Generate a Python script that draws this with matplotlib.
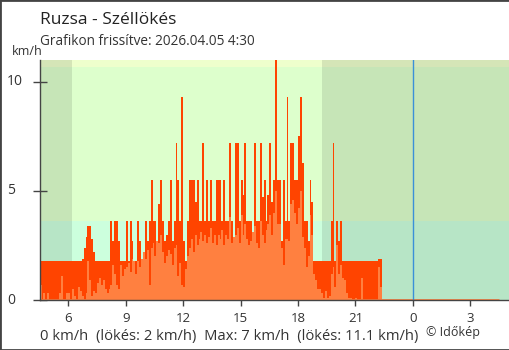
import numpy as np
import matplotlib
matplotlib.use('Agg')
import matplotlib.pyplot as plt
from matplotlib import transforms
from matplotlib.patches import Rectangle

plt.rcParams['font.family'] = ['Open Sans', 'DejaVu Sans']

# ---- data (km/h), one value per 6 minutes starting at 4:30 ----
start_hour = 4.5
step_hours = 0.1
gust = [
    # 4.5 - 6.6
    1.8, 1.8, 1.8, 1.8, 1.8, 1.8, 1.8, 1.8, 1.8, 1.8, 1.8,
    1.8, 1.8, 1.8, 1.8, 1.8, 1.8, 1.8, 1.8, 1.8, 1.8, 1.8,
    # 6.7 - 7.4
    1.9, 2.4, 2.9, 3.4, 3.4, 2.8, 2.2, 1.8,
    # 7.5 - 10.6
    1.8, 1.8, 1.8, 1.8, 1.8, 1.8, 1.8, 3.6, 2.7, 3.6, 3.6, 2.7, 1.8, 1.8, 1.8, 3.6,
    1.8, 3.6, 2.7, 1.8, 1.8, 3.6, 2.7, 1.8, 1.8, 3.6, 2.7, 3.6, 5.5, 3.6, 3.6, 2.7,
    # 10.7 - 13.8
    4.4, 5.5, 3.6, 2.7, 3.0, 3.6, 5.5, 2.7, 3.6, 7.2, 5.5, 3.6, 9.3, 2.7, 1.8, 3.6,
    5.5, 5.5, 5.5, 4.5, 5.5, 3.6, 3.6, 7.2, 3.6, 5.5, 3.6, 5.5, 3.6, 3.6, 5.5, 5.5,
    # 13.9 - 16.9
    5.5, 3.6, 5.5, 3.6, 3.6, 7.2, 3.6, 2.7, 7.2, 7.2, 3.6, 5.5, 4.8, 7.2, 3.6, 3.6,
    3.6, 2.7, 7.2, 3.6, 3.6, 7.2, 4.7, 5.5, 3.6, 4.8, 7.2, 4.5, 5.5, 11.1, 5.5,
    # 17.0 - 20.0
    5.5, 2.7, 5.5, 3.6, 9.3, 3.6, 7.2, 7.2, 5.5, 5.5, 7.5, 9.3, 6.3, 3.6, 3.6, 2.7,
    5.5, 4.5, 1.8, 1.8, 1.8, 1.8, 1.8, 1.8, 1.8, 1.8, 1.8, 3.6, 7.2, 1.8, 3.6,
    # 20.1 - 22.3
    2.7, 3.6, 1.8, 1.8, 1.8, 1.8, 1.8, 1.8, 1.8, 1.8, 1.8, 1.8,
    1.8, 1.8, 1.8, 1.8, 1.8, 1.8, 1.8, 1.8, 1.8, 1.9, 1.9,
]
wind = [
    # 4.5 - 6.6
    0.7, 0.0, 0.3, 0.0, 0.3, 0.0, 0.0, 0.0, 0.0, 0.0, 0.3,
    1.1, 0.0, 0.0, 0.3, 0.3, 0.0, 0.5, 0.2, 0.0, 0.6, 0.4,
    # 6.7 - 7.4
    0.2, 0.0, 0.3, 1.8, 0.9, 0.2, 0.4, 0.3,
    # 7.5 - 10.6
    0.8, 1.0, 0.7, 0.9, 0.5, 0.3, 0.5, 0.7, 1.6, 1.2, 0.7, 0.5, 1.6, 1.1, 1.4, 1.5,
    1.7, 1.3, 1.9, 1.8, 1.2, 1.8, 1.5, 1.9, 2.2, 1.9, 2.3, 0.7, 2.4, 2.6, 2.0, 2.7,
    # 10.7 - 13.8
    2.6, 3.0, 2.2, 1.7, 2.0, 2.3, 2.1, 1.6, 2.4, 2.5, 1.1, 1.7, 0.7, 0.6, 1.4, 2.0,
    2.4, 2.8, 2.2, 3.0, 2.5, 2.8, 3.1, 2.7, 3.0, 2.6, 2.9, 3.3, 2.6, 3.0, 2.5, 3.0,
    # 13.9 - 16.9
    2.8, 3.2, 2.5, 3.0, 2.8, 3.8, 2.6, 2.9, 3.0, 3.3, 2.6, 3.9, 3.0, 3.5, 2.8, 2.5,
    2.7, 3.1, 3.4, 2.6, 2.4, 3.6, 3.0, 2.6, 3.2, 3.5, 3.9, 3.0, 4.0, 5.0, 3.5,
    # 17.0 - 20.0
    3.5, 2.4, 1.6, 2.8, 2.8, 2.7, 4.4, 4.6, 4.0, 3.5, 4.2, 5.0, 2.9, 2.4, 1.5, 2.0,
    3.9, 3.0, 1.2, 0.9, 0.5, 0.5, 0.3, 0.1, 0.4, 0.1, 0.2, 1.2, 1.5, 0.6, 2.5,
    # 20.1 - 22.3
    1.2, 1.6, 1.0, 0.9, 0.3, 0.1, 0.1, 0.0, 0.0, 0.1, 0.0, 0.0,
    1.0, 0.0, 0.0, 0.0, 0.0, 0.0, 0.0, 0.0, 0.0, 1.5, 0.6,
]
zero_line_hours = [4.5, 28.5]
zero_line_values = [0, 0]

tick_hours = [6, 9, 12, 15, 18, 21, 24, 27]
tick_labels = ['6', '9', '12', '15', '18', '21', '0', '3']
ytick_values = [0, 5, 10]
band_edges = [0, 3.6, 10.7, 11.0]
band_colors = ['#ccffdd', '#ddffcc', '#eeffcc']
sunrise, sunset = 6.2, 19.25
midnight = 24
x_range = (4.52, 29.02)
y_range = (0, 11.0)

title = 'Ruzsa - Széllökés'
subtitle = 'Grafikon frissítve: 2026.04.05 4:30'
stats = '0 km/h  (lökés: 2 km/h)  Max: 7 km/h  (lökés: 11.1 km/h)'
credit = '© Időkép'

# ---- figure ----
W, H = 510, 350
fig = plt.figure(figsize=(W / 100, H / 100), dpi=100)
ax = fig.add_axes([40 / W, 1 - 300 / H, 469 / W, 240 / H])
ax.set_xlim(*x_range)
ax.set_ylim(*y_range)
ax.set_facecolor('white')

for lo, hi, c in zip(band_edges[:-1], band_edges[1:], band_colors):
    ax.axhspan(lo, hi, color=c, lw=0, zorder=0.1)
ax.axvspan(x_range[0], sunrise, color='black', alpha=0.1, lw=0, zorder=0.2)
ax.axvspan(sunset, x_range[1], color='black', alpha=0.1, lw=0, zorder=0.2)

hours = start_hour + step_hours * np.arange(len(gust))
ax.bar(hours, gust, width=step_hours, align='edge', color='#ff4400', lw=0, zorder=1)
ax.bar(hours, wind, width=step_hours, align='edge', color='#ff8040', lw=0, zorder=1.1)
ax.plot(zero_line_hours, zero_line_values, color='#ff8040', lw=2, zorder=1.2,
        solid_capstyle='butt')

ax.axvline(midnight, color='#3a90d8', lw=1, zorder=3)

ax.set_axisbelow(True)
for s in ['top', 'right']:
    ax.spines[s].set_visible(False)
for s in ['left', 'bottom']:
    ax.spines[s].set_color('#444444')
    ax.spines[s].set_linewidth(1)
    ax.spines[s].set_zorder(4)

ax.set_xticks(tick_hours)
ax.set_xticklabels(tick_labels, fontsize=9.5, color='#333333')
ax.tick_params(axis='x', direction='out', length=4, width=1, color='#444444', pad=5)
ax.set_yticks(ytick_values)
ax.set_yticklabels([])
ax.tick_params(axis='y', direction='inout', length=10, width=1, color='#444444')

ylab_tr = transforms.blended_transform_factory(fig.transFigure, ax.transData)
for v in ytick_values:
    ax.text(7 / W, v, str(v), transform=ylab_tr, ha='left', va='center',
            fontsize=10, color='#333333')

def fx(px):
    return px / W

def fy(py):
    return 1 - py / H

fig.text(fx(40), fy(24), title, fontsize=12.5, color='#222222', va='baseline')
fig.text(fx(40), fy(45), subtitle, fontsize=9.8, color='#333333', va='baseline')
fig.text(fx(12), fy(55), 'km/h', fontsize=9, color='#333333', va='baseline')
fig.text(fx(40), fy(340), stats, fontsize=10.6, color='#333333', va='baseline')
fig.text(fx(426), fy(336), credit, fontsize=9, color='#333333', va='baseline')

fig.add_artist(Rectangle((0, 0), 1, 1, transform=fig.transFigure, fill=False,
                         edgecolor='#444444', lw=2))

fig.savefig('out.png', dpi=100)
